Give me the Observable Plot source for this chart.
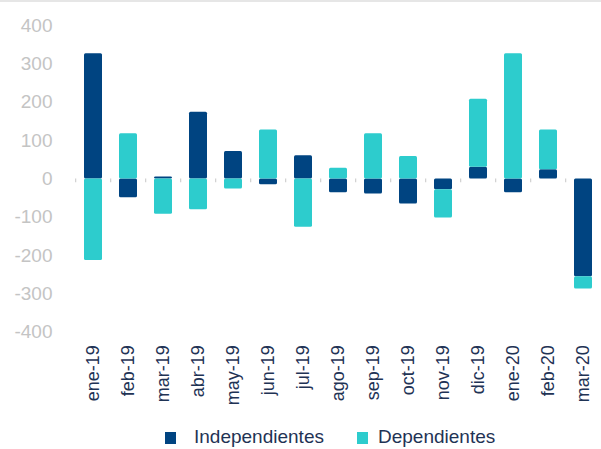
<!DOCTYPE html>
<html>
<head>
<meta charset="utf-8">
<script src="https://cdn.jsdelivr.net/npm/d3@7"></script>
<script src="https://cdn.jsdelivr.net/npm/@observablehq/plot@0.6"></script>
<style>
  html, body { margin: 0; padding: 0; background: #fff; }
  body { width: 601px; height: 449px; overflow: hidden; font-family: "Liberation Sans", Arial, sans-serif; }
  #wrap { border-top: 2px solid #e6e6e6; width: 601px; }
  #legend { position: relative; height: 37px; width: 601px; }
  #legend .sw { position: absolute; width: 11px; height: 12px; top: 20px; }
  #legend .lb { position: absolute; top: 14px; font-size: 19px; color: #1f3355; line-height: 22px; }
</style>
</head>
<body>
<div id="wrap">
  <div id="chart"></div>
  <div id="legend"></div>
</div>
<script>
const months = ["ene-19","feb-19","mar-19","abr-19","may-19","jun-19","jul-19","ago-19","sep-19","oct-19","nov-19","dic-19","ene-20","feb-20","mar-20"];
const independientes = [327, -49, 5, 174, 72, -15, 61, -36, -39, -65, -28, 31, -36, 24, -255];
const dependientes = [-213, 118, -92, -80, -26, 128, -126, 28, 118, 59, -74, 177, 327, 104, -32];
const seriesNames = ["Independientes", "Dependientes"];
const seriesColors = ["#004481", "#2dcccd"];
const yTicks = [-400, -300, -200, -100, 0, 100, 200, 300, 400];

const rows = [];
months.forEach((m, i) => {
  rows.push({month: m, series: seriesNames[0], value: independientes[i]});
  rows.push({month: m, series: seriesNames[1], value: dependientes[i]});
});

const xLeft = 70, xRight = 605.5;
const bw = (xRight - xLeft) / months.length;

const chart = Plot.plot({
  width: 601,
  height: 410,
  marginTop: 23.3,
  marginBottom: 80.3,
  marginLeft: 70,
  marginRight: 0,
  style: {fontFamily: "'Liberation Sans', Arial, sans-serif", background: "#fff"},
  x: {type: "band", domain: months, range: [xLeft, xRight], paddingInner: 0.5, paddingOuter: 0.25, align: 0.5},
  y: {domain: [-400, 400]},
  color: {domain: seriesNames, range: seriesColors},
  marks: [
    Plot.ruleY([0], {x1: xLeft, x2: 601, stroke: "#d4d4d4", strokeWidth: 1.5}),
    Plot.ruleX(months, {x: d => d, y1: 0, y2: -10, dx: -bw / 2, stroke: "#d0d0d0", strokeWidth: 1.2}),
    Plot.barY(rows, Plot.stackY({x: "month", y: "value", fill: "series", order: null, rx: 1.5})),
    Plot.axisY({ticks: yTicks, tickSize: 0, tickPadding: 18, fontSize: 19, fill: "#c4c4c4", label: null, tickFormat: d => String(d)}),
    Plot.axisX({tickRotate: -90, tickSize: 0, tickPadding: 13, fontSize: 18, fill: "#1f3355", label: null})
  ]
});
document.getElementById("chart").appendChild(chart);

const legend = document.getElementById("legend");
const legendPos = [{sw: 165, lb: 194}, {sw: 357, lb: 378}];
seriesNames.forEach((name, i) => {
  const s = document.createElement("div");
  s.className = "sw";
  s.style.left = legendPos[i].sw + "px";
  s.style.background = seriesColors[i];
  legend.appendChild(s);
  const l = document.createElement("div");
  l.className = "lb";
  l.style.left = legendPos[i].lb + "px";
  l.textContent = name;
  legend.appendChild(l);
});
</script>
</body>
</html>
